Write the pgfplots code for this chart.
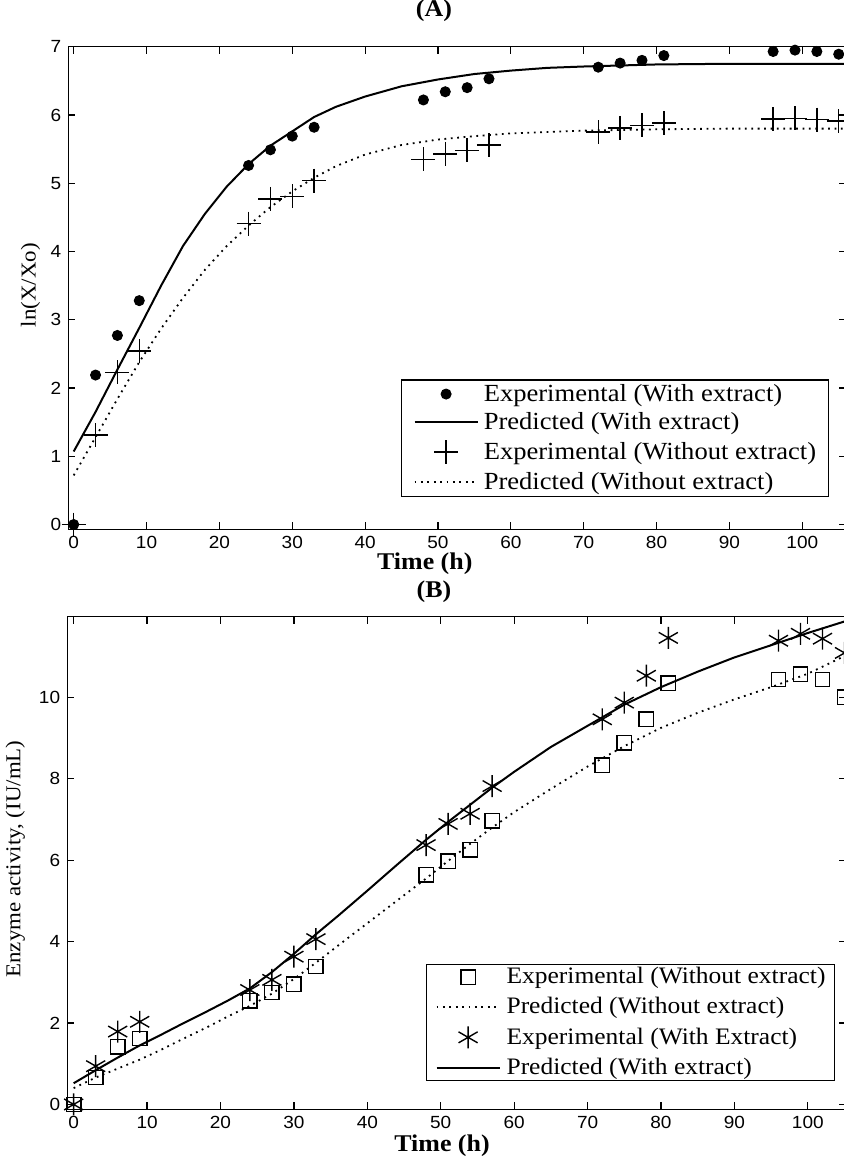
\documentclass[border=0pt]{standalone}
\usepackage{fontspec}
\setmainfont[FakeStretch=1.08]{Liberation Serif}
\newfontfamily\tickfont[FakeStretch=1.08]{Liberation Sans}
\usepackage{pgfplots}
\pgfplotsset{compat=1.18}

\pgfplotsset{
  matfig/.style={
    scale only axis,
    anchor=north west,
    axis line style={line width=0.7pt},
    tick style={line width=0.6pt, black},
    major tick length=3.5pt,
    tick align=inside,
    xtick={0,10,...,100},
    /pgf/number format/assume math mode=true,
    tick label style={font=\tickfont\fontsize{8.8}{9}\selectfont},
    label style={font=\fontsize{10.6}{12}\selectfont},
    title style={font=\bfseries\fontsize{12}{13}\selectfont},
    legend cell align=left,
    legend image code/.code={\draw[mark repeat=2,mark phase=2,#1] plot coordinates {(0pt,0pt) (15.75pt,0pt) (31.5pt,0pt)};},
  },
  fitline/.style={black, line width=1pt, no markers},
  dotline/.style={black, line width=0.9pt, dash pattern=on 0.9pt off 2.3pt, no markers},
}

\begin{document}
\begin{tikzpicture}
\path[use as bounding box] (0,0) rectangle (421.5pt,-579pt);

% ---------- (A) ----------
\begin{axis}[matfig,
  at={(34.15pt,-23.35pt)}, width=388.85pt, height=241.3pt,
  xmin=-0.74, xmax=106.0, ymin=-0.07, ymax=7, ytick={0,...,7},
  title={(A)},
  title style={at={([yshift=12.05pt]axis description cs:0.4702,1)}, anchor=center},
  xlabel={Time (h)},
  xlabel style={at={([yshift=-17.4pt]axis description cs:0.4584,0)}, anchor=center,
    font=\bfseries\fontsize{12}{13}\selectfont},
  ylabel={ln(X/Xo)},
  ylabel style={at={([xshift=-18.9pt]axis description cs:0,0.506)}, anchor=center},
  legend style={at={(0.4278,0.3106)}, anchor=north west, draw=black, line width=0.6pt,
    inner xsep=6pt, inner ysep=2pt, row sep=4pt, column sep=2.6pt,
    nodes={inner sep=0pt, font=\fontsize{12.3}{13}\selectfont}},
]
\addplot[only marks, mark=*, mark size=2.5pt, mark options={fill=black, draw=black, line width=0.5pt}]
  coordinates {(0,0) (3,2.19) (6,2.77) (9,3.28) (24,5.26) (27,5.49) (30,5.69) (33,5.82)
  (48,6.22) (51,6.34) (54,6.40) (57,6.53) (72,6.70) (75,6.76) (78,6.80) (81,6.87)
  (96,6.93) (99,6.95) (102,6.93) (105,6.89)};
\addlegendentry{Experimental (With extract)}
\addplot[fitline] coordinates {(0,1.07) (3,1.65) (6,2.27) (9,2.88) (12,3.50) (15,4.08)
  (18,4.55) (21,4.95) (24,5.28) (27,5.55) (30,5.76) (33,5.97) (36,6.12) (40,6.27)
  (45,6.42) (50,6.52) (55,6.60) (60,6.65) (65,6.69) (70,6.71) (80,6.74) (90,6.75) (106,6.75)};
\addlegendentry{Predicted (With extract)}
\addplot[only marks, mark=+, mark size=6pt, mark options={line width=0.7pt, black}]
  coordinates {(0,0) (3,1.31) (6,2.23) (9,2.54) (24,4.41) (27,4.77) (30,4.81) (33,5.04)
  (48,5.35) (51,5.43) (54,5.48) (57,5.56) (72,5.75) (75,5.81) (78,5.85) (81,5.88)
  (96,5.94) (99,5.95) (102,5.93) (105,5.91)};
\addlegendentry{Experimental (Without extract)}
\addplot[dotline] coordinates {(0,0.72) (3,1.28) (6,1.84) (9,2.38) (12,2.87) (15,3.32)
  (18,3.73) (21,4.08) (24,4.38) (27,4.65) (30,4.88) (33,5.08) (36,5.25) (40,5.42)
  (45,5.56) (50,5.64) (55,5.69) (60,5.73) (70,5.77) (80,5.79) (90,5.80) (106,5.80)};
\addlegendentry{Predicted (Without extract)}
\end{axis}

% ---------- (B) ----------
\begin{axis}[matfig,
  at={(33.6pt,-308.35pt)}, width=389.4pt, height=246.3pt,
  xmin=-0.88, xmax=105.2, ymin=-0.12, ymax=11.98, ytick={0,2,...,10},
  title={(B)},
  title style={at={([yshift=6.65pt]axis description cs:0.471,1)}, anchor=center},
  xlabel={Time (h)},
  xlabel style={at={([yshift=-18.2pt]axis description cs:0.4813,0)}, anchor=center,
    font=\bfseries\fontsize{12}{13}\selectfont},
  ylabel={Enzyme activity, (IU/mL)},
  ylabel style={at={([xshift=-26pt]axis description cs:0,0.508)}, anchor=center},
  legend style={at={(0.4607,0.295)}, anchor=north west, draw=black, line width=0.6pt,
    inner xsep=4.5pt, inner ysep=1.5pt, row sep=5pt, column sep=3pt,
    nodes={inner sep=0pt, font=\fontsize{11.8}{13}\selectfont}},
]
\addplot[only marks, mark=square, mark size=3.6pt, mark options={line width=0.7pt, black}]
  coordinates {(0,0) (3,0.66) (6,1.42) (9,1.62) (24,2.55) (27,2.75) (30,2.95) (33,3.39)
  (48,5.64) (51,5.97) (54,6.25) (57,6.97) (72,8.33) (75,8.88) (78,9.46) (81,10.35)
  (96,10.44) (99,10.57) (102,10.44) (105,10.0)};
\addlegendentry{Experimental (Without extract)}
\addplot[dotline] coordinates {(0,0.40) (3,0.66) (6,0.88) (9,1.10) (12,1.35) (15,1.62)
  (18,1.88) (21,2.16) (24,2.42) (27,2.72) (30,3.08) (33,3.48) (36,3.90) (40,4.45)
  (44,5.00) (48,5.55) (51,5.98) (54,6.40) (57,6.80) (60,7.18) (65,7.75) (70,8.30)
  (75,8.80) (80,9.25) (85,9.62) (90,9.95) (95,10.25) (100,10.58) (106,11.10)};
\addlegendentry{Predicted (Without extract)}
\addplot[only marks, mark=asterisk, mark size=5.5pt, mark options={line width=0.7pt, black}]
  coordinates {(0,0) (3,0.94) (6,1.79) (9,2.03) (24,2.81) (27,3.06) (30,3.63) (33,4.06)
  (48,6.37) (51,6.89) (54,7.14) (57,7.82) (72,9.46) (75,9.87) (78,10.53) (81,11.46)
  (96,11.39) (99,11.56) (102,11.44) (105,11.09)};
\addlegendentry{Experimental (With Extract)}
\addplot[fitline] coordinates {(0,0.52) (3,0.84) (6,1.15) (9,1.45) (12,1.72) (15,2.00)
  (18,2.27) (21,2.55) (24,2.85) (27,3.25) (30,3.70) (33,4.18) (36,4.63) (40,5.25)
  (44,5.88) (48,6.50) (51,6.94) (54,7.36) (57,7.78) (60,8.17) (65,8.78) (70,9.30)
  (75,9.82) (80,10.25) (85,10.63) (90,10.98) (95,11.28) (100,11.58) (106,11.92)};
\addlegendentry{Predicted (With extract)}
\end{axis}
\end{tikzpicture}
\end{document}
